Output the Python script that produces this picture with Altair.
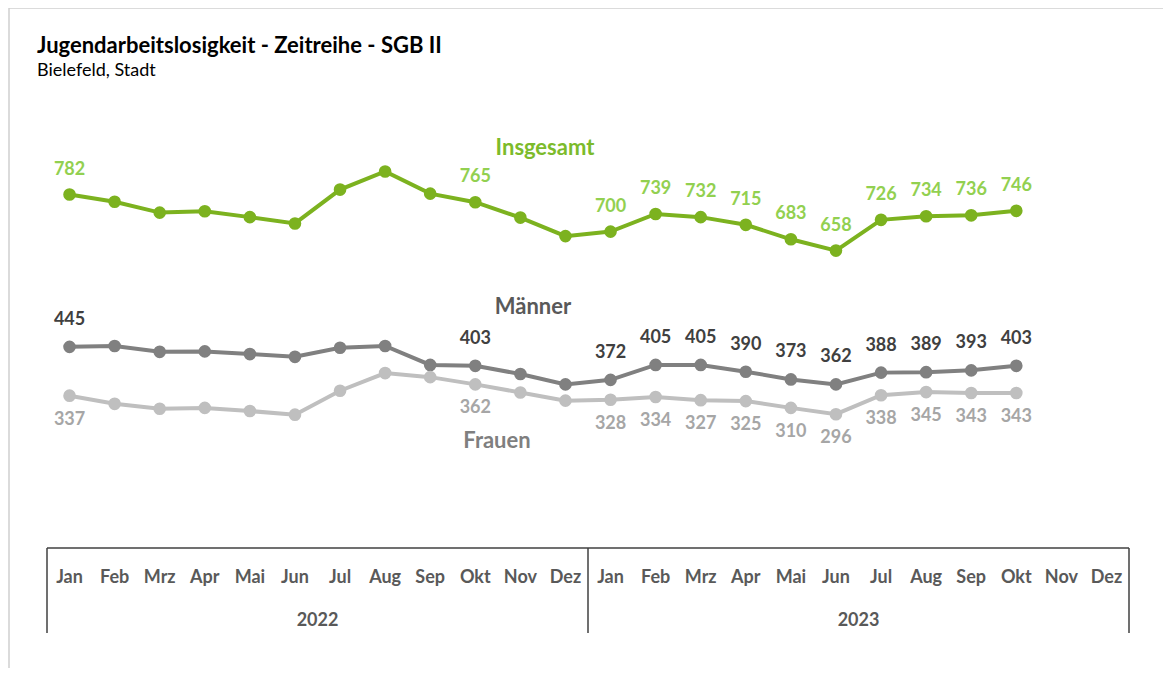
import altair as alt
import pandas as pd

months = ["Jan", "Feb", "Mrz", "Apr", "Mai", "Jun", "Jul", "Aug", "Sep", "Okt", "Nov", "Dez"]
years = ["2022", "2023"]

insgesamt = [782, 766, 742, 745, 732, 718, 793, 833, 784, 765, 731, 690,
             700, 739, 732, 715, 683, 658, 726, 734, 736, 746]
maenner = [445, 447, 434, 435, 429, 423, 443, 447, 405, 403, 385, 362,
           372, 405, 405, 390, 373, 362, 388, 389, 393, 403]
frauen = [337, 319, 308, 310, 303, 295, 348, 387, 378, 362, 344, 326,
          328, 334, 327, 325, 310, 296, 338, 345, 343, 343]

# months whose values carry a data label (index into the time series)
labelled = [0, 9, 12, 13, 14, 15, 16, 17, 18, 19, 20, 21]

series_names = ["Insgesamt", "Männer", "Frauen"]
series_values = [insgesamt, maenner, frauen]
line_colors = ["#7cb21f", "#808080", "#bfbfbf"]

title_text = "Jugendarbeitslosigkeit - Zeitreihe - SGB II"
subtitle_text = "Bielefeld, Stadt"

rows = []
for name, vals in zip(series_names, series_values):
    for i, v in enumerate(vals):
        rows.append({"idx": i, "serie": name, "wert": v, "lab": i in labelled})
df = pd.DataFrame(rows)

axis_rows = []
for yi, y in enumerate(years):
    for mi, m in enumerate(months):
        axis_rows.append({"idx": yi * 12 + mi, "monat": m})
axis_df = pd.DataFrame(axis_rows)
year_df = pd.DataFrame({"jahr": years, "mid": [yi * 12 + 5.5 for yi in range(len(years))]})
bound_df = pd.DataFrame({"b": [yi * 12 - 0.5 for yi in range(len(years) + 1)]})

W, H = 1082, 452
FONT = "Lato"

xs = alt.Scale(domain=[-0.5, 23.5], nice=False, zero=False)
ys = alt.Scale(domain=[0, 1000], nice=False)
X = alt.X("idx:Q", scale=xs, axis=None)
Y = alt.Y("wert:Q", scale=ys, axis=None)
C = alt.Color("serie:N", scale=alt.Scale(domain=series_names, range=line_colors), legend=None)

base = alt.Chart(df)


def one(t):
    return alt.Chart(alt.Data(values=[{"t": t}]))


frame = one("").mark_rect(
    fillOpacity=0, stroke="#d0d0d0", strokeWidth=1.5
).encode(x=alt.value(-38), x2=alt.value(1300), y=alt.value(-88), y2=alt.value(800))

title = one(title_text).mark_text(
    font=FONT, fontSize=22, fontWeight="bold", color="#000000", align="left", baseline="middle"
).encode(x=alt.value(-10), y=alt.value(-50), text="t:N")
subtitle = one(subtitle_text).mark_text(
    font=FONT, fontSize=18, color="#000000", align="left", baseline="middle"
).encode(x=alt.value(-10), y=alt.value(-25), text="t:N")

lines = base.mark_line(strokeWidth=4).encode(x=X, y=Y, color=C, detail="serie:N")
points = base.mark_point(filled=True, size=160, opacity=1).encode(x=X, y=Y, color=C)

lab_ins = base.transform_filter("datum.lab && datum.serie == 'Insgesamt'").mark_text(
    font=FONT, fontSize=18, fontWeight="bold", color="#92d050", dy=-25, baseline="middle"
).encode(x=X, y=Y, text="wert:Q")
lab_m = base.transform_filter("datum.lab && datum.serie == 'Männer'").mark_text(
    font=FONT, fontSize=18, fontWeight="bold", color="#404040", dy=-27, baseline="middle"
).encode(x=X, y=Y, text="wert:Q")
lab_f = base.transform_filter("datum.lab && datum.serie == 'Frauen'").mark_text(
    font=FONT, fontSize=18, fontWeight="bold", color="#a6a6a6", dy=24, baseline="middle"
).encode(x=X, y=Y, text="wert:Q")

name_ins = one("Insgesamt").mark_text(
    font=FONT, fontSize=22, fontWeight="bold", color="#7cbb2b", baseline="middle"
).encode(x=alt.value(498), y=alt.value(52), text="t:N")
name_m = one("Männer").mark_text(
    font=FONT, fontSize=22, fontWeight="bold", color="#595959", baseline="middle"
).encode(x=alt.value(486), y=alt.value(211), text="t:N")
name_f = one("Frauen").mark_text(
    font=FONT, fontSize=22, fontWeight="bold", color="#7f7f7f", baseline="middle"
).encode(x=alt.value(450), y=alt.value(345), text="t:N")

hline = one("").mark_rule(color="#404040", strokeWidth=1.5).encode(
    x=alt.value(0), x2=alt.value(W), y=alt.value(H)
)
vlines = alt.Chart(bound_df).mark_rule(color="#404040", strokeWidth=1.5).encode(
    x=alt.X("b:Q", scale=xs, axis=None), y=alt.value(H), y2=alt.value(H + 85)
)
month_txt = alt.Chart(axis_df).mark_text(
    font=FONT, fontSize=18, fontWeight="bold", color="#595959", baseline="middle"
).encode(x=alt.X("idx:Q", scale=xs, axis=None), y=alt.value(H + 30), text="monat:N")
year_txt = alt.Chart(year_df).mark_text(
    font=FONT, fontSize=18, fontWeight="bold", color="#595959", baseline="middle"
).encode(x=alt.X("mid:Q", scale=xs, axis=None), y=alt.value(H + 73), text="jahr:N")

chart = alt.layer(
    frame, title, subtitle, lines, points, lab_ins, lab_m, lab_f, name_ins, name_m, name_f,
    hline, vlines, month_txt, year_txt
).properties(
    width=W, height=H,
    autosize=alt.AutoSizeParams(type="none"),
    padding={"left": 39, "top": 88, "right": 34, "bottom": 120},
).configure(background="white", view=alt.ViewConfig(strokeWidth=0, stroke="transparent"))

chart.save("out.html", embed_options={"renderer": "svg", "actions": False})
